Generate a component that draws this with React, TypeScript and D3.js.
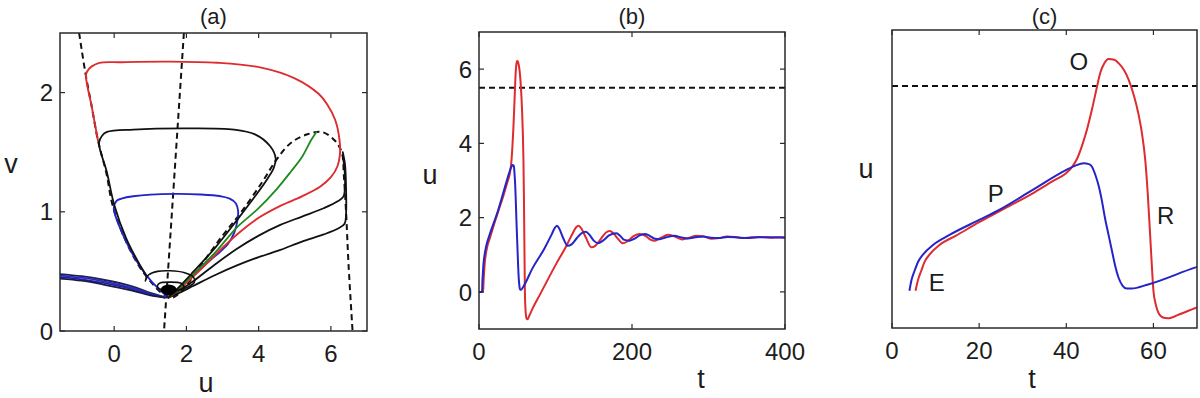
import React from 'react';
import * as d3 from 'd3';

type Pt = [number, number];

// ---- panel (a): phase plane (u, v) ----
const uNullcline: Pt[] = [
  [-0.97, 2.5], [-0.8, 2.17], [-0.62, 1.88], [-0.45, 1.6], [-0.22, 1.33], [-0.04, 1.05],
  [0.3, 0.77], [0.7, 0.54], [1.05, 0.4], [1.35, 0.31], [1.6, 0.28], [1.85, 0.33],
  [2.4, 0.55], [2.95, 0.78], [3.5, 0.99], [4.1, 1.25], [4.5, 1.44], [4.9, 1.58],
  [5.35, 1.65], [5.75, 1.67], [6.1, 1.6], [6.3, 1.5], [6.36, 1.3], [6.42, 1.0],
  [6.49, 0.55], [6.6, 0.0],
];
const vNullcline: Pt[] = [[1.93, 2.5], [1.38, 0]];

const redOrbit: Pt[] = [
  [1.5, 0.28], [1.8, 0.35], [2.2, 0.46], [2.8, 0.64], [3.4, 0.81], [4.0, 0.95],
  [4.6, 1.05], [5.2, 1.13], [5.7, 1.21], [6.0, 1.29], [6.18, 1.38], [6.25, 1.48],
  [6.24, 1.6], [6.12, 1.77], [5.9, 1.9], [5.66, 1.99], [5.0, 2.12], [4.07, 2.21],
  [2.86, 2.25], [1.46, 2.26], [0.2, 2.255], [-0.41, 2.25], [-0.62, 2.22], [-0.72, 2.19],
  [-0.78, 2.15], [-0.62, 1.88], [-0.45, 1.6],
];
const greenOrbit: Pt[] = [
  [1.5, 0.28], [1.8, 0.36], [2.2, 0.48], [2.8, 0.66], [3.4, 0.87], [4.0, 1.03],
  [4.5, 1.19], [4.9, 1.34], [5.2, 1.46], [5.45, 1.6], [5.6, 1.67],
];
const blueOrbit: Pt[] = [
  [1.4, 0.29], [1.8, 0.36], [2.2, 0.47], [2.8, 0.63], [3.15, 0.73], [3.33, 0.83],
  [3.42, 0.94], [3.43, 1.01], [3.37, 1.07], [3.2, 1.11], [2.95, 1.13], [2.4, 1.145],
  [1.64, 1.15], [0.53, 1.13], [0.2, 1.11], [0.06, 1.09], [-0.01, 1.03], [0.3, 0.77],
  [0.7, 0.55], [1.05, 0.41], [1.4, 0.31],
];
const blackLoop: Pt[] = [
  [1.5, 0.28], [1.8, 0.37], [2.2, 0.5], [2.8, 0.7], [3.4, 0.93], [3.9, 1.13],
  [4.25, 1.28], [4.42, 1.37], [4.47, 1.45], [4.32, 1.55], [3.9, 1.65], [3.32, 1.69],
  [1.92, 1.7], [0.53, 1.69], [-0.2, 1.67], [-0.33, 1.64], [-0.42, 1.58], [-0.2, 1.33],
  [0.0, 1.06], [0.33, 0.78], [0.7, 0.56], [0.9, 0.46],
];
const blackSpiral: Pt[] = [
  [0.9, 0.46], [0.86, 0.42], [0.95, 0.47], [1.2, 0.5], [1.55, 0.505], [1.93, 0.49],
  [2.2, 0.45], [2.22, 0.41], [2.05, 0.37], [1.75, 0.34], [1.4, 0.34], [1.2, 0.37],
  [1.25, 0.4], [1.55, 0.41], [1.85, 0.4], [1.93, 0.37], [1.75, 0.34], [1.5, 0.33],
];
const blackA: Pt[] = [
  [1.5, 0.28], [1.8, 0.34], [2.2, 0.42], [2.8, 0.56], [3.4, 0.69], [4.0, 0.8],
  [4.6, 0.89], [5.2, 0.96], [5.8, 1.03], [6.2, 1.09], [6.35, 1.13], [6.39, 1.22],
  [6.38, 1.35], [6.33, 1.47],
];
const blackB: Pt[] = [
  [1.5, 0.28], [1.8, 0.32], [2.2, 0.38], [2.8, 0.47], [3.4, 0.55], [4.0, 0.62],
  [4.6, 0.68], [5.2, 0.75], [5.8, 0.81], [6.2, 0.86], [6.38, 0.9], [6.42, 0.98],
  [6.42, 1.2], [6.39, 1.4], [6.33, 1.5],
];
const leftBundle: Pt[][] = [
  [[-1.5, 0.478], [-0.9, 0.46], [-0.3, 0.43], [0.5, 0.375], [1.0, 0.32], [1.4, 0.285]],
  [[-1.5, 0.465], [-0.9, 0.447], [-0.3, 0.417], [0.5, 0.362], [1.0, 0.312], [1.4, 0.283]],
  [[-1.5, 0.452], [-0.9, 0.434], [-0.3, 0.403], [0.5, 0.35], [1.0, 0.305], [1.4, 0.281]],
  [[-1.5, 0.44], [-0.9, 0.422], [-0.3, 0.39], [0.5, 0.339], [1.0, 0.298], [1.4, 0.28]],
];
const leftBundleColors = ['#222244', '#2a2ac8', '#2222b0', '#1a1a44'];
const fixedPoint: Pt = [1.51, 0.345];

const aTicksX = [0, 2, 4, 6];
const aTicksY = [0, 1, 2];

// ---- panels (b), (c): time courses u(t) ----
const redTrace: Pt[] = [
  [0, 0], [5.4, 0], [6.0, 0.3], [6.7, 0.53], [7.5, 0.78], [8.6, 0.97], [10.9, 1.23],
  [14.7, 1.48], [20, 1.84], [26, 2.22], [32.2, 2.61], [37, 2.95], [39.8, 3.14],
  [41.3, 3.32], [42.5, 3.55], [43.6, 3.89], [44.8, 4.35], [45.9, 4.87], [47, 5.45],
  [47.8, 5.85], [48.7, 6.1], [49.7, 6.22], [51, 6.2], [52, 6.11], [53.2, 5.93],
  [54.3, 5.67], [55.5, 5.25], [56.5, 4.78], [57.4, 4.2], [58.1, 3.54], [58.7, 2.6],
  [59.2, 1.59], [59.6, 0.75], [60, 0.0], [60.5, -0.35], [61.1, -0.58], [62.2, -0.72],
  [63.3, -0.74], [66, -0.63], [69.5, -0.47], [80, -0.06], [100, 0.72], [115, 1.27],
  [122, 1.56], [127, 1.74], [130, 1.78], [134, 1.7], [140, 1.45], [147, 1.2],
  [152, 1.24], [160, 1.45], [166, 1.6], [171, 1.64], [176, 1.57], [182, 1.42],
  [188, 1.31], [194, 1.36], [202, 1.5], [210, 1.56], [218, 1.5], [224, 1.41],
  [230, 1.38], [238, 1.46], [247, 1.54], [256, 1.49], [266, 1.41], [275, 1.46],
  [284, 1.51], [294, 1.49], [304, 1.43], [314, 1.45], [324, 1.49], [334, 1.48],
  [344, 1.45], [356, 1.47], [368, 1.48], [380, 1.46], [392, 1.47], [400, 1.47],
];
const blueTrace: Pt[] = [
  [0, 0], [4.0, 0], [4.5, 0.3], [5.16, 0.53], [6, 0.78], [7.1, 0.97], [9.4, 1.23],
  [13.2, 1.5], [20, 1.9], [24.6, 2.17], [32.2, 2.7], [39.8, 3.23], [42.1, 3.36],
  [44, 3.42], [45.2, 3.4], [45.9, 3.33], [46.7, 3.1], [47.4, 2.83], [48.2, 2.4],
  [48.9, 1.94], [49.7, 1.5], [50.5, 1.06], [51.2, 0.68], [52, 0.35], [52.9, 0.14],
  [53.9, 0.06], [55, 0.06], [58.8, 0.17], [69.5, 0.62], [85, 1.15], [95, 1.55],
  [99, 1.72], [102, 1.78], [105, 1.7], [110, 1.45], [116, 1.24], [121, 1.28],
  [128, 1.45], [134, 1.58], [139.5, 1.62], [145, 1.52], [150, 1.38], [155.6, 1.31],
  [162, 1.38], [170, 1.52], [179.6, 1.58], [185, 1.5], [190, 1.4], [197, 1.38],
  [204, 1.44], [210, 1.52], [216.6, 1.56], [223, 1.51], [230, 1.43], [236, 1.42],
  [245, 1.47], [255.5, 1.51], [264, 1.47], [273, 1.44], [283, 1.47], [293, 1.49],
  [303, 1.46], [313, 1.45], [325, 1.48], [337, 1.47], [350, 1.45], [365, 1.47],
  [380, 1.47], [400, 1.46],
];
const threshold = 5.5;

const bTicksX = [0, 200, 400];
const bTicksY = [0, 2, 4, 6];
const cTicksX = [0, 20, 40, 60];

const phaseLabels = ['E', 'P', 'O', 'R'];
const phaseT = [10.3, 23.8, 42.9, 62.8];
const phaseU = [0.23, 2.61, 6.17, 2.03];

const RED = '#de2b2e';
const BLUE = '#2424c8';
const GREEN = '#1e8a1e';
const INK = '#1c1c1c';
const FONT = '"Liberation Sans", Arial, Helvetica, sans-serif';

type Box = { left: number; right: number; top: number; bottom: number };

const Frame = ({ box, x, y, ticksX, ticksY, id }: any) => {
  const tl = 5;
  return (
    <g>
      <rect x={box.left} y={box.top} width={box.right - box.left} height={box.bottom - box.top}
        fill="none" stroke="#2a2a2a" strokeWidth={1.5} />
      {ticksX.map((t: number) => (
        <g key={`${id}x${t}`}>
          <line x1={x(t)} x2={x(t)} y1={box.bottom} y2={box.bottom - tl} stroke="#2a2a2a" strokeWidth={1.2} />
          <line x1={x(t)} x2={x(t)} y1={box.top} y2={box.top + tl} stroke="#2a2a2a" strokeWidth={1.2} />
          <text x={x(t)} y={box.bottom + 31} textAnchor="middle" fontSize={24} fill={INK}>{t}</text>
        </g>
      ))}
      {ticksY.map((t: number) => (
        <g key={`${id}y${t}`}>
          <line x1={box.left} x2={box.left + tl} y1={y(t)} y2={y(t)} stroke="#2a2a2a" strokeWidth={1.2} />
          <line x1={box.right} x2={box.right - tl} y1={y(t)} y2={y(t)} stroke="#2a2a2a" strokeWidth={1.2} />
          <text x={box.left - 7} y={y(t)} dy="0.36em" textAnchor="end" fontSize={24} fill={INK}>{t}</text>
        </g>
      ))}
    </g>
  );
};

export default function App() {
  const boxA: Box = { left: 60, right: 367, top: 33, bottom: 331 };
  const boxB: Box = { left: 479, right: 785, top: 32, bottom: 329 };
  const boxC: Box = { left: 892, right: 1197, top: 30, bottom: 328 };

  const xa = d3.scaleLinear().domain([-1.5, 7]).range([boxA.left, boxA.right]);
  const ya = d3.scaleLinear().domain([0, 2.5]).range([boxA.bottom, boxA.top]);
  const xb = d3.scaleLinear().domain([0, 400]).range([boxB.left, boxB.right]);
  const yb = d3.scaleLinear().domain([-1, 7]).range([boxB.bottom, boxB.top]);
  const xc = d3.scaleLinear().domain([0, 70]).range([boxC.left, boxC.right]);
  const yc = d3.scaleLinear().domain([-1, 7]).range([boxC.bottom, boxC.top]);

  const phase = d3.line<Pt>().x(d => xa(d[0])).y(d => ya(d[1])).curve(d3.curveCatmullRom.alpha(0.5));
  const straight = d3.line<Pt>().x(d => xa(d[0])).y(d => ya(d[1]));
  const lineB = d3.line<Pt>().x(d => xb(d[0])).y(d => yb(d[1])).curve(d3.curveMonotoneX);
  const lineC = d3.line<Pt>().x(d => xc(d[0])).y(d => yc(d[1])).curve(d3.curveMonotoneX);

  const clip = (id: string, b: Box) => (
    <clipPath id={id}>
      <rect x={b.left} y={b.top} width={b.right - b.left} height={b.bottom - b.top} />
    </clipPath>
  );

  return (
    <svg width={1200} height={398} style={{ position: 'absolute', left: 0, top: 0, background: '#fff' }}
      fontFamily={FONT}>
      <defs>
        {clip('clipA', boxA)}
        {clip('clipB', boxB)}
        {clip('clipC', boxC)}
      </defs>

      {/* (a) phase plane */}
      <g clipPath="url(#clipA)" fill="none" strokeLinejoin="round" strokeLinecap="round">
        <path d={phase(uNullcline) || ''} stroke="#111" strokeWidth={2} strokeDasharray="6,4" strokeLinecap="butt" />
        <path d={straight(vNullcline) || ''} stroke="#111" strokeWidth={2} strokeDasharray="6,4" strokeLinecap="butt" />
        {leftBundle.map((l, i) => (
          <path key={i} d={phase(l) || ''} stroke={leftBundleColors[i]} strokeWidth={1.8} />
        ))}
        <path d={phase(blackB) || ''} stroke="#111" strokeWidth={1.8} />
        <path d={phase(blackA) || ''} stroke="#111" strokeWidth={1.8} />
        <path d={phase(blueOrbit) || ''} stroke={BLUE} strokeWidth={1.9} />
        <path d={phase(redOrbit) || ''} stroke={RED} strokeWidth={1.9} />
        <path d={phase(greenOrbit) || ''} stroke={GREEN} strokeWidth={1.8} />
        <path d={phase(blackLoop) || ''} stroke="#111" strokeWidth={1.8} />
        <path d={phase(blackSpiral) || ''} stroke="#111" strokeWidth={1.6} />
        <ellipse cx={xa(fixedPoint[0])} cy={ya(fixedPoint[1])} rx={8} ry={5.5} fill="#000" />
      </g>
      <Frame box={boxA} x={xa} y={ya} ticksX={aTicksX} ticksY={aTicksY} id="a" />
      <text x={(boxA.left + boxA.right) / 2} y={24} textAnchor="middle" fontSize={22} fill={INK}>(a)</text>
      <text x={206} y={392} textAnchor="middle" fontSize={27} fill={INK}>u</text>
      <text x={11} y={165} dy="0.3em" textAnchor="middle" fontSize={27} fill={INK}>v</text>

      {/* (b) full time course */}
      <g clipPath="url(#clipB)" fill="none">
        <line x1={boxB.left} x2={boxB.right} y1={yb(threshold)} y2={yb(threshold)} stroke="#111" strokeWidth={2} strokeDasharray="6,4" />
        <path d={lineB(redTrace) || ''} stroke={RED} strokeWidth={2} />
        <path d={lineB(blueTrace) || ''} stroke={BLUE} strokeWidth={2} />
      </g>
      <Frame box={boxB} x={xb} y={yb} ticksX={bTicksX} ticksY={bTicksY} id="b" />
      <text x={(boxB.left + boxB.right) / 2} y={24} textAnchor="middle" fontSize={22} fill={INK}>(b)</text>
      <text x={701} y={388} textAnchor="middle" fontSize={27} fill={INK}>t</text>
      <text x={430} y={176} dy="0.3em" textAnchor="middle" fontSize={27} fill={INK}>u</text>

      {/* (c) zoom on the first spike */}
      <g clipPath="url(#clipC)" fill="none">
        <line x1={boxC.left} x2={boxC.right} y1={yc(threshold)} y2={yc(threshold)} stroke="#111" strokeWidth={2} strokeDasharray="6,4" />
        <path d={lineC(redTrace.slice(1)) || ''} stroke={RED} strokeWidth={2} />
        <path d={lineC(blueTrace.slice(1)) || ''} stroke={BLUE} strokeWidth={2} />
      </g>
      <Frame box={boxC} x={xc} y={yc} ticksX={cTicksX} ticksY={[]} id="c" />
      <text x={(boxC.left + boxC.right) / 2} y={24} textAnchor="middle" fontSize={22} fill={INK}>(c)</text>
      <text x={1032} y={388} textAnchor="middle" fontSize={27} fill={INK}>t</text>
      <text x={866} y={170} dy="0.3em" textAnchor="middle" fontSize={27} fill={INK}>u</text>
      {phaseLabels.map((s, i) => (
        <text key={s} x={xc(phaseT[i])} y={yc(phaseU[i])} dy="0.36em" textAnchor="middle" fontSize={24} fill={INK}>{s}</text>
      ))}
    </svg>
  );
}
